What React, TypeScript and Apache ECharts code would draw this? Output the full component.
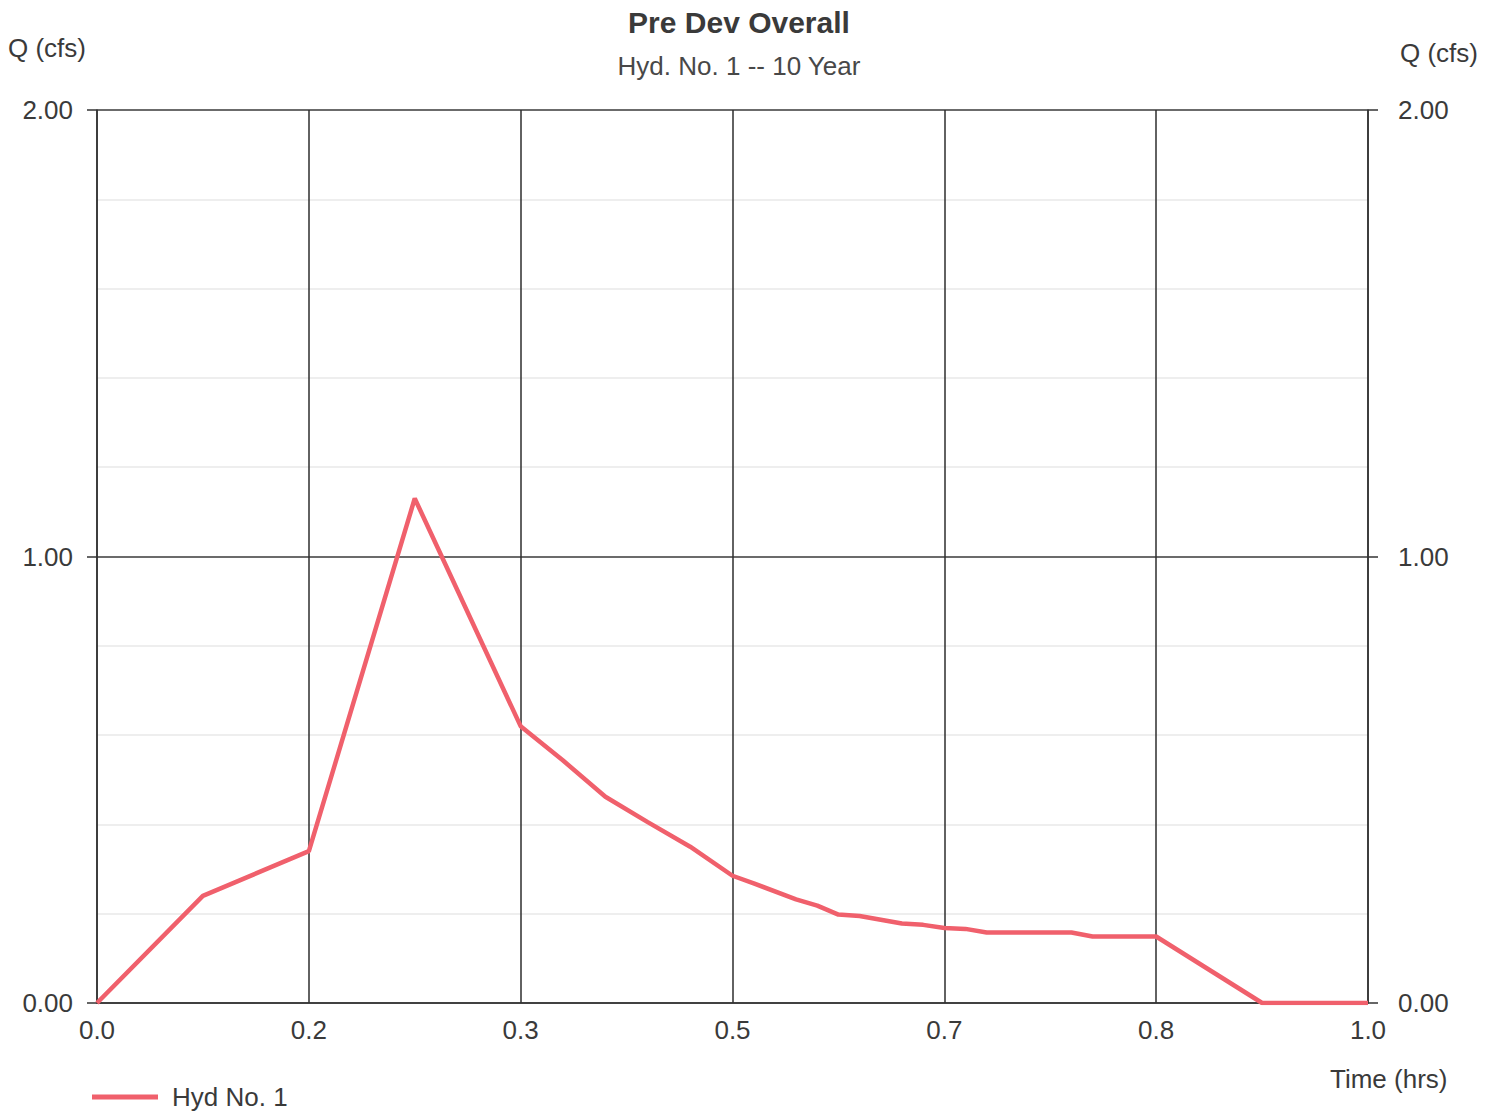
import React, { useEffect, useRef } from "react";
import * as echarts from "echarts";

// Hydrograph ordinates: time in hours, discharge in cfs
const timeHrs = [
  0, 0.0833, 0.1667, 0.25, 0.3333, 0.3667, 0.4, 0.4333, 0.4667, 0.5, 0.5167,
  0.55, 0.5667, 0.5833, 0.6, 0.6333, 0.65, 0.6667, 0.6833, 0.7, 0.7667, 0.7833,
  0.8333, 0.9167, 1.0,
];
const flowCfs = [
  0, 0.24, 0.34, 1.13, 0.62, 0.543, 0.462, 0.405, 0.35, 0.285, 0.268, 0.232,
  0.218, 0.198, 0.195, 0.178, 0.175, 0.168, 0.166, 0.158, 0.158, 0.149, 0.149,
  0, 0,
];

const xTickLabels = ["0.0", "0.2", "0.3", "0.5", "0.7", "0.8", "1.0"];
const yTickLabels = ["0.00", "1.00", "2.00"];

const titleText = "Pre Dev Overall";
const subtitleText = "Hyd. No. 1 -- 10 Year";
const seriesName = "Hyd No. 1";
const yName = "Q (cfs)";
const xName = "Time (hrs)";

const FONT = "'Liberation Sans', Arial, sans-serif";
const TEXT_COLOR = "#3a3a3a";
const LINE_COLOR = "#f0606c";
const LABEL_SIZE = 26;

export default function App() {
  const ref = useRef<HTMLDivElement>(null);

  useEffect(() => {
    if (!ref.current) return;
    const chart = echarts.init(ref.current, undefined, { renderer: "svg" });

    // x axis runs in minutes so the sixth-hour ticks fall on whole numbers
    const points = timeHrs.map((t, i) => [t * 60, flowCfs[i]]);

    const yAxisCommon = {
      type: "value" as const,
      min: 0,
      max: 2,
      interval: 1,
      axisLine: { show: true, lineStyle: { color: "#333", width: 1.5 } },
      axisTick: { show: true, length: 10, lineStyle: { color: "#333", width: 1.5 } },
      splitLine: { show: true, lineStyle: { color: "#3a3a3a", width: 1.5 } },
      minorTick: { show: false, splitNumber: 5 },
      minorSplitLine: { show: true, lineStyle: { color: "#e8e8e8", width: 1.5 } },
    };

    const labelStyle = { fontFamily: FONT, fontSize: LABEL_SIZE, color: TEXT_COLOR };

    chart.setOption({
      animation: false,
      backgroundColor: "#ffffff",
      title: {
        text: titleText,
        subtext: subtitleText,
        left: 734,
        textAlign: "center",
        top: 2,
        itemGap: 16,
        textStyle: { fontFamily: FONT, fontSize: 30, fontWeight: "bold", color: TEXT_COLOR },
        subtextStyle: { fontFamily: FONT, fontSize: 26, color: "#484848" },
      },
      legend: {
        left: 92,
        top: 1084,
        padding: 0,
        itemWidth: 66,
        itemHeight: 5,
        icon: "rect",
        textStyle: { ...labelStyle, lineHeight: 26, padding: [0, 0, 0, 9] },
        data: [{ name: seriesName, itemStyle: { color: LINE_COLOR } }],
      },
      grid: { left: 97, right: 133, top: 110, bottom: 111, containLabel: false },
      xAxis: {
        type: "value",
        min: 0,
        max: 60,
        interval: 10,
        axisLine: { show: true, lineStyle: { color: "#333", width: 1.5 } },
        axisTick: { show: false },
        splitLine: { show: true, lineStyle: { color: "#2e2e2e", width: 1.5 } },
        axisLabel: {
          ...labelStyle,
          margin: 14,
          formatter: (v: number) => xTickLabels[Math.round(v / 10)] ?? "",
        },
      },
      yAxis: [
        {
          ...yAxisCommon,
          position: "left",
          axisLabel: {
            ...labelStyle,
            margin: 24,
            formatter: (v: number) => yTickLabels[Math.round(v)] ?? "",
          },
        },
        {
          ...yAxisCommon,
          position: "right",
          splitLine: { show: false },
          minorSplitLine: { show: false },
          axisLabel: {
            ...labelStyle,
            margin: 30,
            formatter: (v: number) => yTickLabels[Math.round(v)] ?? "",
          },
        },
      ],
      graphic: [
        {
          type: "text",
          left: 8,
          top: 35,
          style: { text: yName, font: `${LABEL_SIZE}px ${FONT}`, fill: TEXT_COLOR },
        },
        {
          type: "text",
          left: 1400,
          top: 40,
          style: { text: yName, font: `${LABEL_SIZE}px ${FONT}`, fill: TEXT_COLOR },
        },
        {
          type: "text",
          left: 1330,
          top: 1066,
          style: { text: xName, font: `${LABEL_SIZE}px ${FONT}`, fill: TEXT_COLOR },
        },
      ],
      series: [
        {
          name: seriesName,
          type: "line",
          data: points,
          showSymbol: false,
          symbol: "none",
          lineStyle: { color: LINE_COLOR, width: 4.5 },
          itemStyle: { color: LINE_COLOR },
          z: 5,
        },
      ],
    });

    return () => chart.dispose();
  }, []);

  return (
    <div
      ref={ref}
      style={{ position: "absolute", left: 0, top: 0, width: 1501, height: 1114 }}
    />
  );
}
